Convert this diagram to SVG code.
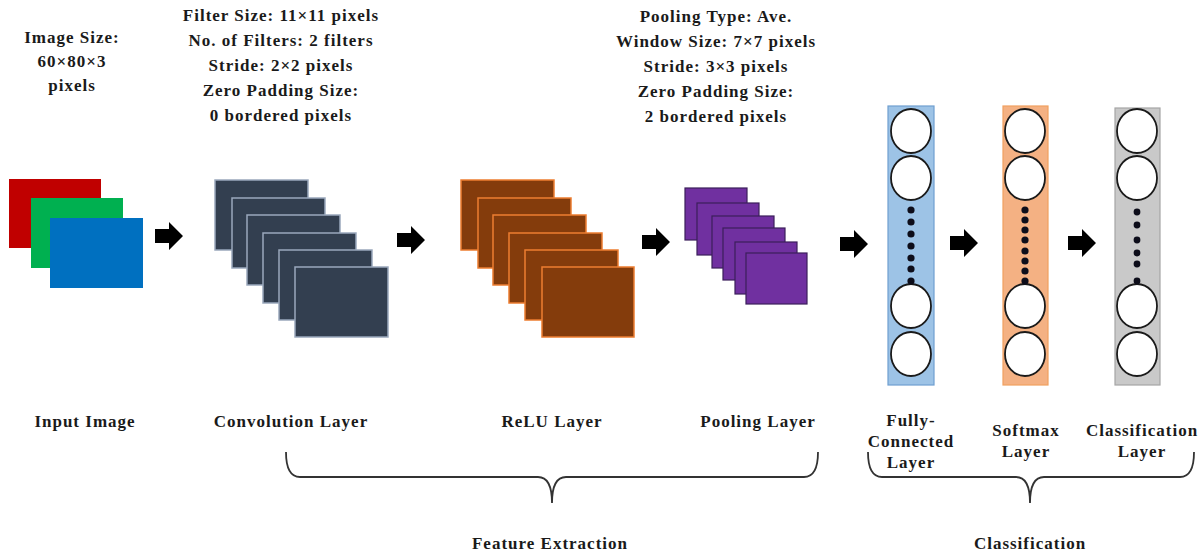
<svg xmlns="http://www.w3.org/2000/svg" width="1204" height="558" viewBox="0 0 1204 558">
<defs>
<style>
text{font-family:"Liberation Serif","Times New Roman",serif;font-weight:bold;font-size:17px;letter-spacing:1px;fill:#1a1a1a;text-anchor:middle}
.conv{fill:#333F50;stroke:#9AA8BC;stroke-width:1.5}
.relu{fill:#843C0C;stroke:#ED7D31;stroke-width:1.5}
.pool{fill:#7030A0;stroke:#3B1E5A;stroke-width:1.2}
.node{fill:#ffffff;stroke:#1a1a1a;stroke-width:1.8}
.dot{fill:#0d0d1a}
.brace{fill:none;stroke:#333;stroke-width:1.8}
</style>
<path id="arr" d="M0,-7 H14 V-14 L28,0 L14,14 V7 H0 Z" fill="#000"/>
</defs>
<rect width="1204" height="558" fill="#fff"/>

<g id="input-image">
<rect x="9" y="179" width="92" height="69" fill="#C00000"/>
<rect x="31" y="198" width="92" height="70" fill="#00B050"/>
<rect x="50" y="218" width="93" height="70" fill="#0070C0"/>
<text x="72" y="43">Image Size:</text>
<text x="72" y="67">60×80×3</text>
<text x="72" y="91">pixels</text>
<text x="85" y="427">Input Image</text>
</g>

<g id="convolution-layer">
<rect class="conv" x="215" y="180" width="93" height="70"/>
<rect class="conv" x="232" y="198" width="93" height="70"/>
<rect class="conv" x="247" y="215" width="93" height="70"/>
<rect class="conv" x="263" y="233" width="93" height="70"/>
<rect class="conv" x="279" y="250" width="93" height="70"/>
<rect class="conv" x="295" y="267" width="93" height="70"/>
<text x="281" y="21">Filter Size: 11×11 pixels</text>
<text x="281" y="46">No. of Filters: 2 filters</text>
<text x="281" y="71">Stride: 2×2 pixels</text>
<text x="281" y="96">Zero Padding Size:</text>
<text x="281" y="121">0 bordered pixels</text>
<text x="291" y="427">Convolution Layer</text>
</g>

<g id="relu-layer">
<rect class="relu" x="461" y="180" width="93" height="70"/>
<rect class="relu" x="478" y="198" width="93" height="70"/>
<rect class="relu" x="493" y="215" width="93" height="70"/>
<rect class="relu" x="509" y="233" width="93" height="70"/>
<rect class="relu" x="525" y="250" width="93" height="70"/>
<rect class="relu" x="542" y="267" width="92" height="70"/>
<text x="552" y="427">ReLU Layer</text>
</g>

<g id="pooling-layer">
<rect class="pool" x="685" y="188" width="62" height="52"/>
<rect class="pool" x="697" y="203" width="62" height="52"/>
<rect class="pool" x="712" y="216" width="62" height="52"/>
<rect class="pool" x="723" y="228" width="62" height="52"/>
<rect class="pool" x="735" y="242" width="62" height="52"/>
<rect class="pool" x="746" y="253" width="61" height="51"/>
<text x="716" y="22">Pooling Type: Ave.</text>
<text x="716" y="47">Window Size: 7×7 pixels</text>
<text x="716" y="72">Stride: 3×3 pixels</text>
<text x="716" y="97">Zero Padding Size:</text>
<text x="716" y="122">2 bordered pixels</text>
<text x="758" y="427">Pooling Layer</text>
</g>

<g id="fully-connected-layer">
<rect x="888" y="106" width="46" height="279" fill="#9DC3E6" stroke="#6F9FD0" stroke-width="1.2"/>
<ellipse class="node" cx="911" cy="131" rx="20" ry="22"/>
<ellipse class="node" cx="911" cy="178" rx="20" ry="22"/>
<ellipse class="node" cx="911" cy="306" rx="20" ry="22"/>
<ellipse class="node" cx="911" cy="354" rx="20" ry="22"/>
<g class="dot">
<circle cx="911" cy="210" r="3.6"/><circle cx="911" cy="222" r="3.6"/><circle cx="911" cy="234" r="3.6"/><circle cx="911" cy="246" r="3.6"/><circle cx="911" cy="258" r="3.6"/><circle cx="911" cy="269" r="3.6"/><circle cx="911" cy="281" r="3.6"/>
</g>
<text x="911" y="426">Fully-</text>
<text x="911" y="447">Connected</text>
<text x="911" y="468">Layer</text>
</g>

<g id="softmax-layer">
<rect x="1003" y="106" width="45" height="279" fill="#F4B183" stroke="#F0A060" stroke-width="1.2"/>
<ellipse class="node" cx="1025" cy="131" rx="20" ry="22"/>
<ellipse class="node" cx="1025" cy="178" rx="20" ry="22"/>
<ellipse class="node" cx="1025" cy="306" rx="20" ry="22"/>
<ellipse class="node" cx="1025" cy="354" rx="20" ry="22"/>
<g class="dot">
<circle cx="1025" cy="210" r="3.6"/><circle cx="1025" cy="220" r="3.6"/><circle cx="1025" cy="230" r="3.6"/><circle cx="1025" cy="240" r="3.6"/><circle cx="1025" cy="251" r="3.6"/><circle cx="1025" cy="261" r="3.6"/><circle cx="1025" cy="271" r="3.6"/><circle cx="1025" cy="281" r="3.6"/>
</g>
<text x="1026" y="436">Softmax</text>
<text x="1026" y="457">Layer</text>
</g>

<g id="classification-layer">
<rect x="1115" y="108" width="45" height="277" fill="#C9C9C9" stroke="#A6A6A6" stroke-width="1.2"/>
<ellipse class="node" cx="1137" cy="131" rx="20" ry="22"/>
<ellipse class="node" cx="1137" cy="178" rx="20" ry="22"/>
<ellipse class="node" cx="1137" cy="306" rx="20" ry="22"/>
<ellipse class="node" cx="1137" cy="354" rx="20" ry="22"/>
<g class="dot">
<circle cx="1137" cy="212" r="3.4"/><circle cx="1137" cy="225" r="3.4"/><circle cx="1137" cy="240" r="3.4"/><circle cx="1137" cy="253" r="3.4"/><circle cx="1137" cy="264" r="3.4"/><circle cx="1137" cy="281" r="3.4"/>
</g>
<text x="1142" y="436">Classification</text>
<text x="1142" y="457">Layer</text>
</g>

<g id="feature-extraction">
<path class="brace" d="M286,452 Q286,477 300,477 H538 Q552,477 552,503 Q552,477 566,477 H804 Q818,477 818,452"/>
<text x="550" y="549">Feature Extraction</text>
</g>

<g id="classification">
<path class="brace" d="M868,452 Q868,477 882,477 H1016 Q1030,477 1030,503 Q1030,477 1044,477 H1180 Q1194,477 1194,452"/>
<text x="1030" y="549">Classification</text>
</g>

<g id="connectors">
<use href="#arr" x="155" y="236"/>
<use href="#arr" x="397" y="240"/>
<use href="#arr" x="642" y="242"/>
<use href="#arr" x="840" y="244"/>
<use href="#arr" x="950" y="243"/>
<use href="#arr" x="1068" y="243"/>
</g>
</svg>
